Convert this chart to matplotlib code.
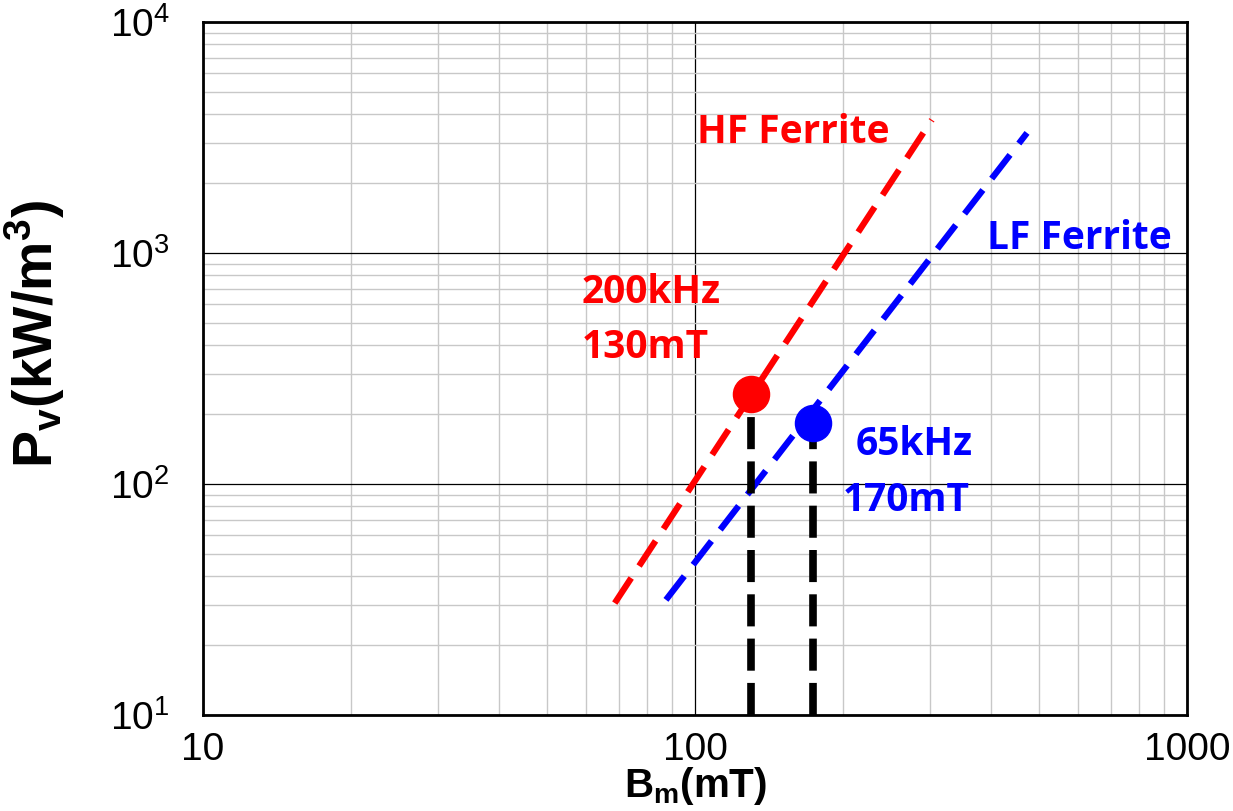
import matplotlib.pyplot as plt
from matplotlib.ticker import LogLocator, NullFormatter, FixedLocator, FixedFormatter

# power loss lines (log-log straight lines, endpoints)
hf_B = [68.7, 303]
hf_P = [30.5, 3770]
lf_B = [87.3, 473]
lf_P = [31.5, 3310]

# operating points
op_B = [130, 174]
op_P = [245, 183]
op_col = ['#ff0000', '#0000ff']

x_ticks = [10, 100, 1000]
x_labels = ['10', '100', '1000']
y_ticks = [10, 100, 1000, 10000]
y_labels = [r'10$^\mathregular{1}$', r'10$^\mathregular{2}$', r'10$^\mathregular{3}$', r'10$^\mathregular{4}$']

plt.rcParams['font.family'] = ['Liberation Sans', 'DejaVu Sans']
plt.rcParams['mathtext.fontset'] = 'custom'
plt.rcParams['mathtext.rm'] = 'Liberation Sans'
plt.rcParams['mathtext.bf'] = 'Liberation Sans:bold'

fig = plt.figure(figsize=(12.33, 8.11), dpi=100)
ax = fig.add_axes([0.1646, 0.1184, 0.7981, 0.8545])
ax.set_xscale('log')
ax.set_yscale('log')
ax.set_xlim(10, 1000)
ax.set_ylim(10, 10000)

ax.xaxis.set_major_locator(FixedLocator(x_ticks))
ax.xaxis.set_major_formatter(FixedFormatter(x_labels))
ax.yaxis.set_major_locator(FixedLocator(y_ticks))
ax.yaxis.set_major_formatter(FixedFormatter(y_labels))
ax.xaxis.set_minor_locator(LogLocator(base=10, subs=range(2, 10)))
ax.yaxis.set_minor_locator(LogLocator(base=10, subs=range(2, 10)))
ax.xaxis.set_minor_formatter(NullFormatter())
ax.yaxis.set_minor_formatter(NullFormatter())
ax.grid(True, which='major', color='black', lw=0.9)
ax.grid(True, which='minor', color='#c8c8c8', lw=1.0)
ax.set_axisbelow(True)
ax.tick_params(which='both', length=0, labelsize=28)
ax.tick_params(axis='x', pad=12)
ax.tick_params(axis='y', pad=24)
for s in ax.spines.values():
    s.set_linewidth(2)

ax.plot(hf_B, hf_P, color='#ff0000', lw=4.5, dashes=(4.8, 2.3), zorder=3)
ax.plot(lf_B, lf_P, color='#0000ff', lw=4.5, dashes=(4.8, 2.3), zorder=3)

for b, p in zip(op_B, op_P):
    ax.plot([b, b], [10, p], color='black', lw=5.5, dashes=(4.2, 1.6),
            zorder=4, clip_on=False, solid_capstyle='butt')
for b, p, c in zip(op_B, op_P, op_col):
    ax.plot(b, p, 'o', color=c, ms=26, zorder=5)

tf = dict(transform=ax.transAxes, fontsize=28, fontweight='bold',
          family=['Open Sans', 'DejaVu Sans'], va='center', ha='left')
ax.text(0.502, 0.840, 'HF Ferrite', color='#ff0000', **tf)
ax.text(0.797, 0.688, 'LF Ferrite', color='#0000ff', **tf)
ax.text(0.385, 0.609, '200kHz', color='#ff0000', **tf)
ax.text(0.385, 0.530, '130mT', color='#ff0000', **tf)
ax.text(0.663, 0.390, '65kHz', color='#0000ff', **tf)
ax.text(0.650, 0.310, '170mT', color='#0000ff', **tf)

ax.set_xlabel(r'B$_\mathbf{m}$(mT)', fontsize=29, fontweight='bold')
ax.xaxis.set_label_coords(0.5, -0.072)
ax.set_ylabel(r'P$_\mathbf{v}$(kW/m$^\mathbf{3}$)', fontsize=40, fontweight='bold')
ax.yaxis.set_label_coords(-0.138, 0.55)

fig.savefig('out.png', dpi=100)
